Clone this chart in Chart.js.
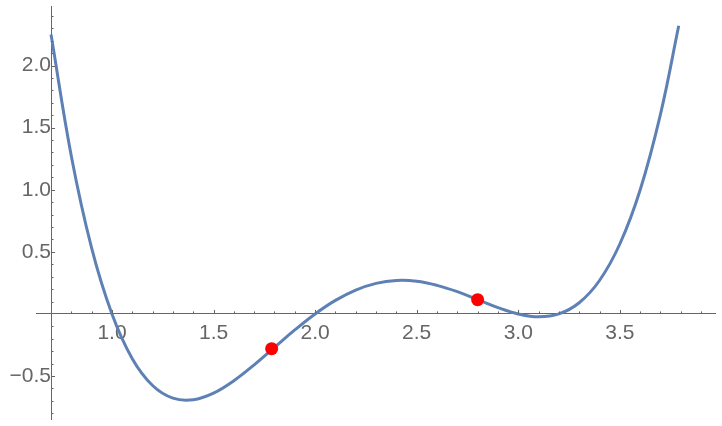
<!DOCTYPE html>
<html>
<head>
<meta charset="utf-8">
<script src="https://cdn.jsdelivr.net/npm/chart.js@4.4.0/dist/chart.umd.min.js"></script>
<style>
  html, body { margin: 0; padding: 0; background: #fff; }
  #wrap { width: 722px; height: 426px; }
</style>
</head>
<body>
<div id="wrap"><canvas id="grafico"></canvas></div>
<script>
// curve samples
const xValues = [0.7, 0.8, 0.9, 1.0, 1.1, 1.2, 1.3, 1.4, 1.5, 1.6, 1.7, 1.8, 1.9, 2.0,
  2.1, 2.2, 2.3, 2.4, 2.5, 2.6, 2.7, 2.8, 2.9, 3.0, 3.1, 3.2, 3.3, 3.4, 3.5, 3.6, 3.7, 3.79];
const yValues = [2.25, 1.27, 0.53, 0.0, -0.36, -0.576, -0.678, -0.691, -0.638, -0.538, -0.41, -0.269, -0.129, 0.0,
  0.109, 0.192, 0.246, 0.269, 0.263, 0.23, 0.179, 0.115, 0.051, 0.0, -0.023, 0.0, 0.09, 0.269, 0.563, 0.998, 1.607, 2.32];

// the two red points
const pointX = [1.786, 2.8];
const pointY = [-0.28, 0.115];

const xTickLabels = [1.0, 1.5, 2.0, 2.5, 3.0, 3.5];
const yTickLabels = [-0.5, 0.5, 1.0, 1.5, 2.0];

const axisColor = '#666666';

// Mathematica style little ticks on the axes
const tickMarks = {
  id: 'tickMarks',
  afterDraw(chart) {
    const ctx = chart.ctx;
    const xs = chart.scales.x;
    const ys = chart.scales.y;
    const y0 = ys.getPixelForValue(0);
    const x0 = xs.getPixelForValue(0.7);
    ctx.save();
    ctx.strokeStyle = axisColor;
    ctx.lineWidth = 1;
    ctx.beginPath();
    for (let i = 8; i <= 39; i++) {
      const v = i / 10;
      const px = Math.round(xs.getPixelForValue(v)) + 0.5;
      const len = i % 5 === 0 ? 4 : 2.5;
      ctx.moveTo(px, y0);
      ctx.lineTo(px, y0 - len);
    }
    for (let i = -8; i <= 24; i++) {
      if (i === 0) continue;
      const v = i / 10;
      const py = Math.round(ys.getPixelForValue(v)) + 0.5;
      const len = i % 5 === 0 ? 4 : 2.5;
      ctx.moveTo(x0, py);
      ctx.lineTo(x0 + len, py);
    }
    ctx.stroke();
    ctx.restore();
  }
};

const fonte = { family: 'Arial, "Liberation Sans", sans-serif', size: 21 };

// no extra room for the end labels, the axes sit inside the plot
function semPadding(s) {
  s.paddingLeft = 0;
  s.paddingRight = 0;
  s.paddingTop = 0;
  s.paddingBottom = 0;
}

new Chart(document.getElementById('grafico'), {
  type: 'scatter',
  data: {
    datasets: [{
      label: 'pontos',
      data: pointX.map((x, i) => ({ x: x, y: pointY[i] })),
      backgroundColor: '#ff0000',
      borderColor: '#ff0000',
      pointRadius: 6.5,
      pointHoverRadius: 6.5,
      borderWidth: 0,
      order: 0
    }, {
      label: 'curva',
      type: 'line',
      data: xValues.map((x, i) => ({ x: x, y: yValues[i] })),
      borderColor: 'rgb(94,129,181)',
      borderWidth: 3,
      pointRadius: 0,
      fill: false,
      tension: 0.4,
      order: 1
    }]
  },
  options: {
    responsive: true,
    maintainAspectRatio: false,
    animation: false,
    events: [],
    layout: { padding: { left: 36, right: 2, top: 2, bottom: 3 } },
    plugins: { legend: { display: false }, tooltip: { enabled: false } },
    scales: {
      x: {
        type: 'linear',
        position: { y: 0 },
        min: 0.626,
        max: 3.971,
        border: { color: axisColor, width: 1 },
        grid: { display: false, drawTicks: false },
        afterBuildTicks: (s) => { s.ticks = xTickLabels.map(v => ({ value: v })); },
        afterFit: semPadding,
        ticks: {
          color: axisColor,
          font: fonte,
          padding: 7,
          maxRotation: 0,
          autoSkip: false,
          callback: (v) => v.toFixed(1)
        }
      },
      y: {
        type: 'linear',
        position: { x: 0.7 },
        min: -0.85,
        max: 2.475,
        border: { color: axisColor, width: 1 },
        grid: { display: false, drawTicks: false },
        afterBuildTicks: (s) => { s.ticks = yTickLabels.map(v => ({ value: v })); },
        afterFit: semPadding,
        ticks: {
          color: axisColor,
          font: fonte,
          padding: 8,
          autoSkip: false,
          callback: (v) => (v < 0 ? '\u2212' + Math.abs(v).toFixed(1) : v.toFixed(1))
        }
      }
    }
  },
  plugins: [tickMarks]
});
</script>
</body>
</html>
